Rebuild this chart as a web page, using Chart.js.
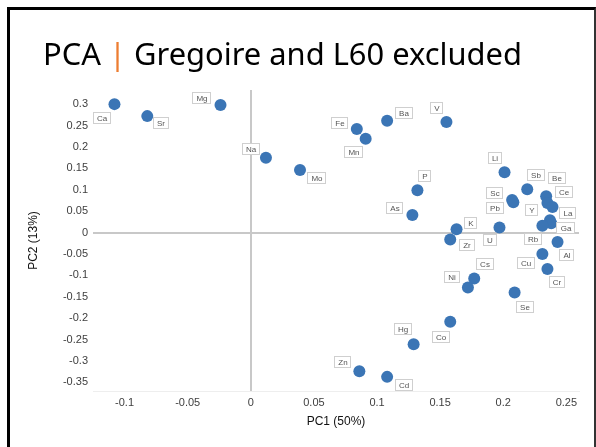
<!DOCTYPE html>
<html>
<head>
<meta charset="utf-8">
<script src="https://cdn.jsdelivr.net/npm/chart.js@4.4.0/dist/chart.umd.min.js"></script>
<style>
  html, body { margin: 0; padding: 0; background: #fff; }
  body { width: 596px; height: 447px; position: relative; overflow: hidden; }
  #chart { position: absolute; left: 0; top: 0; }
  #frame {
    position: absolute; left: 7px; top: 7px; width: 589px; height: 460px;
    box-sizing: border-box; border-left: 3px solid #000; border-top: 3px solid #000;
    border-right: 2px solid #333; pointer-events: none;
  }
  #title {
    position: absolute; left: 43px; top: 38px; white-space: nowrap;
    font-family: "Noto Sans", sans-serif; font-size: 31px; line-height: 31px; color: #000;
    transform-origin: left top;
  }
  #title .bar { color: #ed7d31; }
</style>
</head>
<body>
<canvas id="chart" width="596" height="447"></canvas>
<div id="frame"></div>
<div id="title">PCA <span class="bar">|</span> Gregoire and L60 excluded</div>
<script>
const elements = ['Ca', 'Sr', 'Mg', 'Na', 'Mo', 'Fe', 'Mn', 'Ba', 'V', 'Li', 'P', 'As', 'K', 'Zr', 'U', 'Sb', 'Sc',
  'Pb', 'Be', 'Y', 'Ce', 'La', 'Ga', 'Rb', 'Al', 'Cu', 'Cr', 'Se', 'Cs', 'Ni', 'Co', 'Hg', 'Zn', 'Cd'];
const pc1 = [-0.108, -0.082, -0.024, 0.012, 0.039, 0.084, 0.091, 0.108, 0.155, 0.201, 0.132, 0.128, 0.163, 0.158, 0.197, 0.219, 0.207,
  0.208, 0.234, 0.235, 0.239, 0.237, 0.238, 0.231, 0.243, 0.231, 0.235, 0.209, 0.177, 0.172, 0.158, 0.129, 0.086, 0.108];
const pc2 = [0.300, 0.272, 0.298, 0.175, 0.146, 0.242, 0.219, 0.261, 0.258, 0.141, 0.099, 0.041, 0.008, -0.016, 0.012, 0.101, 0.076,
  0.071, 0.085, 0.069, 0.060, 0.029, 0.022, 0.016, -0.022, -0.050, -0.085, -0.140, -0.107, -0.128, -0.208, -0.261, -0.324, -0.337];
const xTickValues = [-0.1, -0.05, 0, 0.05, 0.1, 0.15, 0.2, 0.25];
const yTickValues = [-0.35, -0.3, -0.25, -0.2, -0.15, -0.1, -0.05, 0, 0.05, 0.1, 0.15, 0.2, 0.25, 0.3];

// where each element's label box sits relative to its dot (px)
const labelOffsets = [[-12, 14], [14, 7], [-18, -7], [-15, -9], [17, 8], [-17, -6], [-12, 13], [17, -8], [-9, -14], [-10, -14],
  [8, -14], [-17, -7], [14, -6], [17, 6], [-9, 13], [9, -14], [-17, -7], [-18, 6], [11, -18], [-15, 7], [12, -15], [18, -7],
  [15, 5], [-9, 13], [9, 13], [-16, 9], [10, 13], [10, 14], [11, -14], [-16, -10], [-9, 15], [-11, -15], [-16, -9], [17, 8]];

// fit the title to the slide width
const title = document.getElementById('title');
title.style.transform = 'scaleX(' + (479 / title.getBoundingClientRect().width) + ')';

const pointLabels = {
  id: 'pointLabels',
  afterDatasetsDraw(chart) {
    const ctx = chart.ctx;
    const meta = chart.getDatasetMeta(0);
    ctx.save();
    ctx.font = '8px "Liberation Sans", Arial, sans-serif';
    ctx.textAlign = 'center';
    ctx.textBaseline = 'middle';
    meta.data.forEach((pt, i) => {
      const cx = Math.round(pt.x + labelOffsets[i][0]);
      const cy = Math.round(pt.y + labelOffsets[i][1]);
      const w = Math.round(ctx.measureText(elements[i]).width) + 8;
      const h = 12;
      const x0 = cx - Math.round(w / 2), y0 = cy - h / 2;
      ctx.fillStyle = '#fff';
      ctx.fillRect(x0, y0, w, h);
      ctx.strokeStyle = '#cfcfcf';
      ctx.lineWidth = 1;
      ctx.strokeRect(x0 + 0.5, y0 + 0.5, w - 1, h - 1);
      ctx.fillStyle = '#555';
      ctx.fillText(elements[i], cx, cy + 0.5);
    });
    ctx.restore();
  }
};

const zeroLine = c => Math.abs(c.tick.value) < 1e-9 ? '#c8c8c8' : 'rgba(0,0,0,0)';
const tickLabel = v => String(+v.toFixed(2));

new Chart(document.getElementById('chart'), {
  type: 'scatter',
  data: {
    datasets: [{
      data: pc1.map((x, i) => ({ x: x, y: pc2[i] })),
      backgroundColor: '#3b75b5',
      borderWidth: 0,
      pointRadius: 6,
      pointHoverRadius: 6
    }]
  },
  options: {
    responsive: false,
    animation: false,
    layout: { padding: { left: 0, top: 90, right: 17, bottom: 0 } },
    scales: {
      x: {
        min: -0.125, max: 0.26,
        afterBuildTicks: s => { s.ticks = xTickValues.map(v => ({ value: v })); },
        afterFit: s => { s.height = 56; },
        grid: { color: zeroLine, lineWidth: 2, drawTicks: false },
        border: { display: true, color: '#eeeeee', width: 1 },
        ticks: { callback: tickLabel, padding: 5, color: '#404040', font: { family: 'Arial', size: 11 }, maxRotation: 0 },
        title: { display: true, text: 'PC1 (50%)', color: '#111', font: { family: 'Arial', size: 12 }, padding: { top: 0, bottom: 18 } }
      },
      y: {
        min: -0.37, max: 0.333,
        afterBuildTicks: s => { s.ticks = yTickValues.map(v => ({ value: v })); },
        afterFit: s => { s.width = 93; },
        grid: { color: zeroLine, lineWidth: 2, drawTicks: false },
        border: { display: false },
        ticks: { callback: tickLabel, padding: 5, color: '#404040', font: { family: 'Arial', size: 11 } },
        title: { display: true, text: 'PC2 (13%)', color: '#111', font: { family: 'Arial', size: 12 }, padding: { top: 26, bottom: 0 } }
      }
    },
    plugins: { legend: { display: false }, tooltip: { enabled: false } }
  },
  plugins: [pointLabels]
});
</script>
</body>
</html>
